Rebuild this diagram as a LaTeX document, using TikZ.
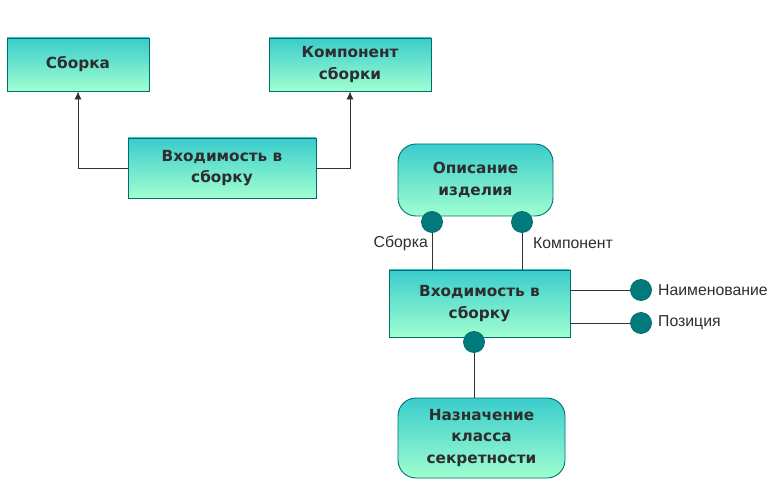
\documentclass[tikz,border=0pt]{standalone}
\usepackage{fontspec}
\setmainfont{DejaVu Sans}
\newfontfamily\labelfont{Liberation Sans}
\usetikzlibrary{arrows.meta}
\definecolor{topc}{RGB}{58,204,204}
\definecolor{botc}{RGB}{160,255,208}
\definecolor{edgec}{RGB}{0,110,110}
\definecolor{dotc}{RGB}{0,122,122}
\definecolor{txtc}{RGB}{45,45,45}
\definecolor{linec}{RGB}{51,51,51}
\tikzset{
  entbox/.style={draw=edgec, line width=0.9pt, top color=topc, bottom color=botc,
    text=txtc, font=\bfseries\fontsize{15.3}{21.5}\selectfont, align=center,
    inner sep=0pt},
  roundbox/.style={entbox, rounded corners=18pt},
  dot/.style={circle, draw=edgec, line width=0.8pt, fill=dotc, minimum size=21pt, inner sep=0pt},
  conn/.style={draw=linec, line width=0.8pt},
  lbl/.style={text=txtc, font=\labelfont\fontsize{15.8}{18}\selectfont, inner sep=0pt}
}
\begin{document}
\begin{tikzpicture}[x=1pt,y=-1pt]
\useasboundingbox (0,0) rectangle (776,494);
% top-left diagram
\node[entbox, minimum width=142pt, minimum height=53pt] (sb) at (78,64.5) {Сборка};
\node[entbox, minimum width=162pt, minimum height=53pt] (ks) at (350,64.5) {Компонент\\сборки};
\node[entbox, minimum width=188pt, minimum height=60pt] (vh1) at (222,168) {Входимость в\\сборку};
\draw[conn, -{Latex[length=8pt,width=7pt]}] (vh1.west) -| (sb.south);
\draw[conn, -{Latex[length=8pt,width=7pt]}] (vh1.east) -| (ks.south);
% right diagram
\node[roundbox, minimum width=155pt, minimum height=72pt] (op) at (475.5,180) {Описание\\изделия};
\node[entbox, minimum width=181pt, minimum height=67pt] (vh2) at (479.5,303.5) {Входимость в\\сборку};
\node[roundbox, minimum width=167pt, minimum height=80pt] (nz) at (481.5,438) {Назначение\\класса\\секретности};
\coordinate (c1p) at (432,222);
\coordinate (c2p) at (522,222);
\coordinate (c3p) at (641,290);
\coordinate (c4p) at (641,323);
\coordinate (c5p) at (474,342);
\draw[conn] (c1p) -- (c1p |- vh2.north);
\draw[conn] (c2p) -- (c2p |- vh2.north);
\draw[conn] (c3p -| vh2.east) -- (c3p);
\draw[conn] (c4p -| vh2.east) -- (c4p);
\draw[conn] (c5p) -- (c5p |- nz.north);
\node[dot] (c1) at (c1p) {};
\node[dot] (c2) at (c2p) {};
\node[dot] (c3) at (c3p) {};
\node[dot] (c4) at (c4p) {};
\node[dot] (c5) at (c5p) {};
\node[lbl, anchor=east] (l1) at (428,243) {Сборка};
\node[lbl, anchor=west] (l2) at (533,243) {Компонент};
\node[lbl, anchor=west] (l3) at (658,290) {Наименование};
\node[lbl, anchor=west] (l4) at (658,323) {Позиция};
\end{tikzpicture}
\end{document}
